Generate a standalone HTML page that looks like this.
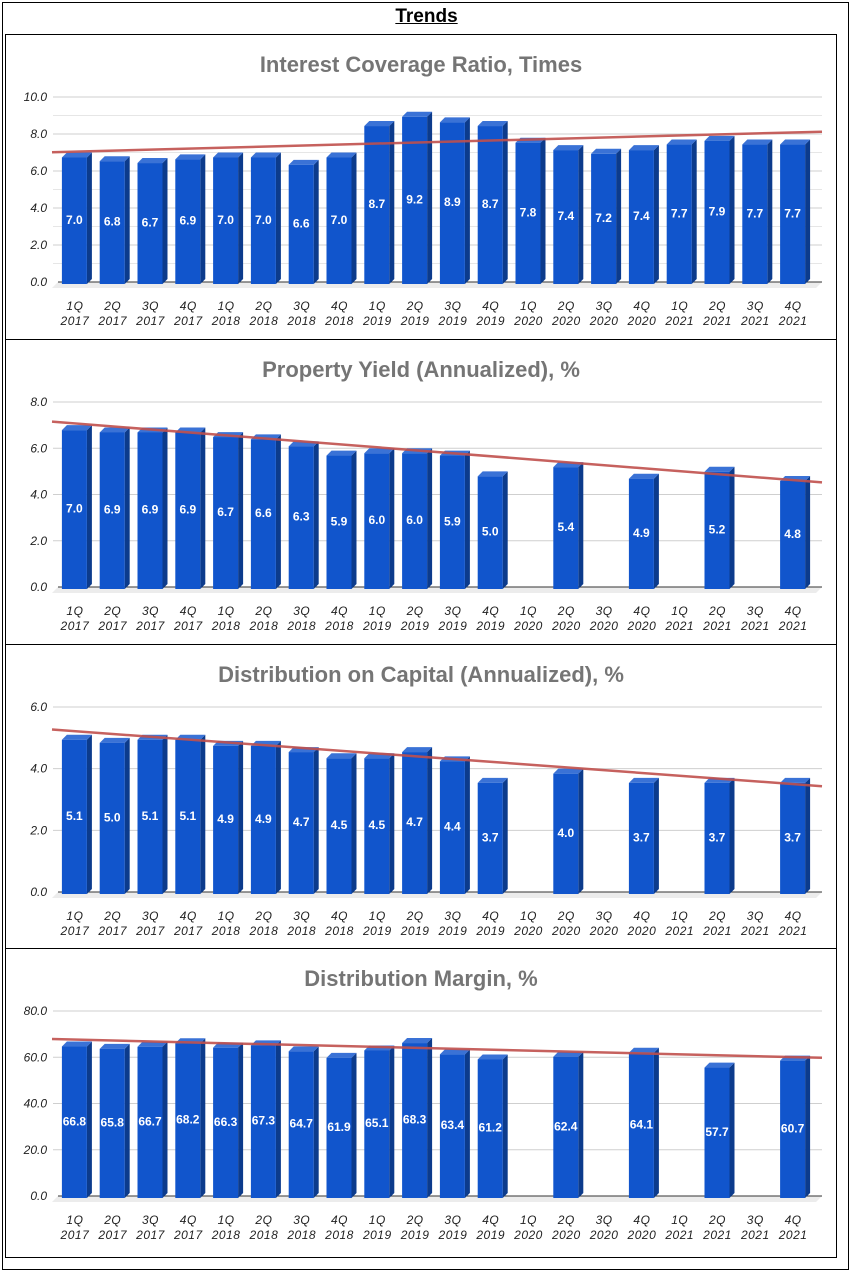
<!DOCTYPE html>
<html><head><meta charset="utf-8"><style>
body{margin:0;background:#fff;font-family:"Liberation Sans",Arial,sans-serif;}
#wrap{position:absolute;left:2px;top:2px;width:845px;height:1266px;border:1.5px solid #000;}
#title{position:absolute;left:0;top:6px;width:853px;text-align:center;font-weight:bold;font-size:19px;text-decoration:underline;}
svg{position:absolute;left:0;top:0;}
</style></head><body>
<div id="wrap"></div>
<div id="title">Trends</div>
<svg id="svg" width="853" height="1274"></svg>
<script>
const catQ=["1Q","2Q","3Q","4Q","1Q","2Q","3Q","4Q","1Q","2Q","3Q","4Q","1Q","2Q","3Q","4Q","1Q","2Q","3Q","4Q"];
const catY=["2017","2017","2017","2017","2018","2018","2018","2018","2019","2019","2019","2019","2020","2020","2020","2020","2021","2021","2021","2021"];
const coverageVals=[7.0,6.8,6.7,6.9,7.0,7.0,6.6,7.0,8.7,9.2,8.9,8.7,7.8,7.4,7.2,7.4,7.7,7.9,7.7,7.7];
const yieldVals=[7.0,6.9,6.9,6.9,6.7,6.6,6.3,5.9,6.0,6.0,5.9,5.0,null,5.4,null,4.9,null,5.2,null,4.8];
const distCapVals=[5.1,5.0,5.1,5.1,4.9,4.9,4.7,4.5,4.5,4.7,4.4,3.7,null,4.0,null,3.7,null,3.7,null,3.7];
const marginVals=[66.8,65.8,66.7,68.2,66.3,67.3,64.7,61.9,65.1,68.3,63.4,61.2,null,62.4,null,64.1,null,57.7,null,60.7];
const charts=[
 {name:"interest-coverage",title:"Interest Coverage Ratio, Times",vals:coverageVals,max:10,ticks:["0.0","2.0","4.0","6.0","8.0","10.0"],minor:true,top:34,h:305},
 {name:"property-yield",title:"Property Yield (Annualized), %",vals:yieldVals,max:8,ticks:["0.0","2.0","4.0","6.0","8.0"],minor:false,top:339,h:305},
 {name:"distribution-capital",title:"Distribution on Capital (Annualized), %",vals:distCapVals,max:6,ticks:["0.0","2.0","4.0","6.0"],minor:false,top:644,h:304},
 {name:"distribution-margin",title:"Distribution Margin, %",vals:marginVals,max:80,ticks:["0.0","20.0","40.0","60.0","80.0"],minor:false,top:948,h:309}
];
const svg=document.getElementById('svg');
const NS="http://www.w3.org/2000/svg";
function mk(tag,attrs,parent){const e=document.createElementNS(NS,tag);for(const k in attrs)e.setAttribute(k,attrs[k]);(parent||svg).appendChild(e);return e;}
const L=56,W=756,N=catQ.length;
charts.forEach(c=>{
 const g=mk('g',{});
 
 
 const panel=mk('rect',{x:5.5,y:c.top+0.5,width:831,height:c.h,fill:'#fff',stroke:'#000','stroke-width':1},g);
 
 
 const t=mk('text',{x:421,y:c.top+38,'text-anchor':'middle','font-size':22,'font-weight':'bold',fill:'#757575'},g);
 t.textContent=c.title;
 
 
 const y0=c.top+248,yT=c.top+63;
 const ys=v=>y0-(v/c.max)*(y0-yT);
 const n=c.ticks.length-1;
 for(let i=0;i<=n;i++){
  const v=c.max*i/n, y=ys(v);
  if(c.minor&&i<n) mk('line',{x1:L-3,x2:822,y1:ys(v+c.max/n/2),y2:ys(v+c.max/n/2),stroke:'#e6e6e6'},g);
  if(i>0) mk('line',{x1:L-3,x2:822,y1:y,y2:y,stroke:'#cfcfcf'},g);
  const tl=mk('text',{x:47,y:y+4,'text-anchor':'end','font-size':12,'font-style':'italic',fill:'#222'},g);
  tl.textContent=c.ticks[i];
  
  
 }
 mk('polygon',{points:`${L-4},${y0+6} ${L+2},${y0} 822,${y0} 816,${y0+6}`,fill:'#ececec'},g);
 mk('line',{x1:L+2,x2:822,y1:y0,y2:y0,stroke:'#333'},g);
 const step=W/N;
 const xs=[],vs=[];
 for(let i=0;i<N;i++){
  const cx=L+step*(i+0.5);
  const q=mk('text',{x:cx,y:y0+28,'text-anchor':'middle','font-size':12,'font-style':'italic',fill:'#222','letter-spacing':'0.5'},g);q.textContent=catQ[i];
  
  
  const yy=mk('text',{x:cx,y:y0+43,'text-anchor':'middle','font-size':12,'font-style':'italic',fill:'#222','letter-spacing':'0.5'},g);yy.textContent=catY[i];
  
  
  const v=c.vals[i];
  if(v==null)continue;
  xs.push(i);vs.push(v);
  const x1=cx-13,x2=cx+12,d=5,ft=ys(v)+d;
  const bg=mk('g',{},g);
  
  
  mk('polygon',{points:`${x2},${ft} ${x2+d},${ft-d} ${x2+d},${y0-d+2} ${x2},${y0+2}`,fill:'#0c3b8c'},bg);
  mk('polygon',{points:`${x1},${ft} ${x1+d},${ft-d} ${x2+d},${ft-d} ${x2},${ft}`,fill:'#3a72d6'},bg);
  mk('rect',{x:x1,y:ft,width:x2-x1,height:y0+2-ft,fill:'#1155cc'},bg);
  const lb=mk('text',{x:(x1+x2)/2,y:(ft+y0)/2+4,'text-anchor':'middle','font-size':12,'font-weight':'bold',fill:'#fff'},bg);
  lb.textContent=v.toFixed(1);
 }
 const m=xs.length,mx=xs.reduce((a,b)=>a+b,0)/m,my=vs.reduce((a,b)=>a+b,0)/m;
 let sxy=0,sxx=0;for(let k=0;k<m;k++){sxy+=(xs[k]-mx)*(vs[k]-my);sxx+=(xs[k]-mx)**2;}
 const b=sxy/sxx,a=my-b*mx;
 const xi=x=>(x-L)/step-0.5;
 const tr=mk('line',{x1:L-4,y1:ys(a+b*xi(L-4)),x2:822,y2:ys(a+b*xi(822)),stroke:'#c0504d','stroke-width':2.5,'stroke-opacity':0.9},g);
 
 
});
</script>
</body></html>
